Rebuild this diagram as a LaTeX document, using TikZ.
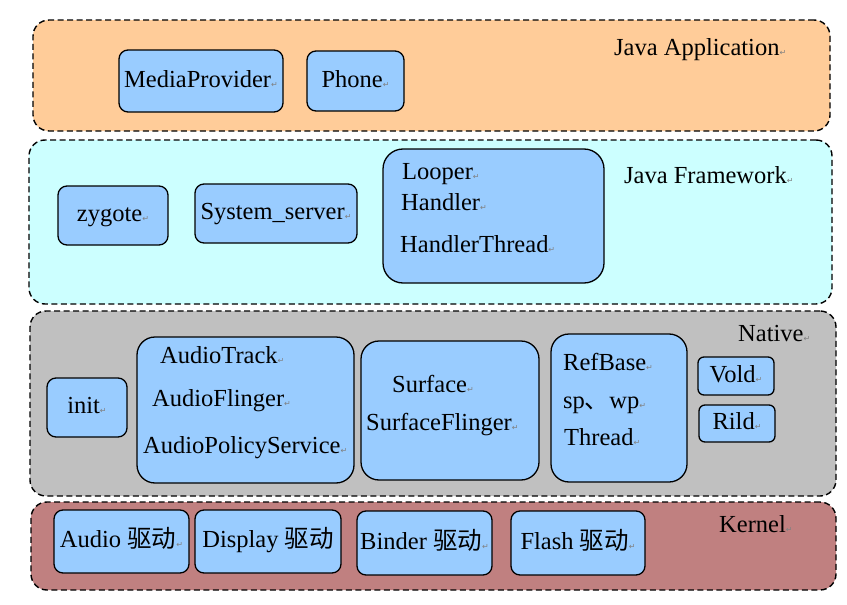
\documentclass[tikz,border=0pt]{standalone}
\usepackage{fontspec}
\setmainfont{Liberation Serif}
\newfontfamily\cjk{Noto Sans CJK SC}
\newfontfamily\symfont{DejaVu Sans}
\definecolor{appfill}{HTML}{FFCC99}
\definecolor{fwfill}{HTML}{CCFFFF}
\definecolor{nativefill}{HTML}{C0C0C0}
\definecolor{kernelfill}{HTML}{C08080}
\definecolor{boxblue}{HTML}{99CCFF}
\newcommand{\pmk}{{\symfont\fontsize{8}{8}\selectfont\textcolor{gray}{↵}}}
\newcommand{\qd}{{\cjk 驱动}}
\begin{document}
\begin{tikzpicture}[x=1pt,y=-1pt,>=stealth]
    % styles
    \tikzset{layer/.style={draw,line width=1.4pt,dash pattern=on 6pt off 3.5pt,rounded corners=16pt,inner sep=0pt},
             comp/.style={draw,line width=1.3pt,fill=boxblue,rounded corners=9pt,inner sep=0pt,
                          font=\fontsize{24.5}{28}\selectfont,text height=12pt,text depth=0pt},
             txt/.style={anchor=base west,inner sep=0pt,font=\fontsize{24.5}{28}\selectfont}}
    \useasboundingbox (0,0) rectangle (847,605);

    % layers
    \node[layer,fill=appfill,minimum width=797,minimum height=111]    (app)    at (431.5,75.5) {};
    \node[layer,fill=fwfill,minimum width=803,minimum height=164]     (fw)     at (430.5,222)  {};
    \node[layer,fill=nativefill,minimum width=806,minimum height=185] (native) at (433,403.5)  {};
    \node[layer,fill=kernelfill,minimum width=805,minimum height=88]  (kernel) at (433.5,546)  {};

    % layer labels
    \node[txt] (appT)    at (614,56)    {Java Application\pmk};
    \node[txt] (fwT)     at (624,183.3) {Java Framework\pmk};
    \node[txt] (nativeT) at (738,341.7) {Native\pmk};
    \node[txt] (kernelT) at (719,532)   {Kernel\pmk};

    % Java Application
    \node[comp,minimum width=164,minimum height=62] (media) at (201,81)    {MediaProvider\pmk};
    \node[comp,minimum width=97,minimum height=60]  (phone) at (355.5,81)  {Phone\pmk};

    % Java Framework
    \node[comp,minimum width=110,minimum height=59] (zygote) at (113,215.5) {zygote\pmk};
    \node[comp,minimum width=162,minimum height=59] (sysserver) at (276,213.5) {System\_server\pmk};
    \node[comp,rounded corners=20pt,minimum width=221,minimum height=134] (looper) at (493.5,216) {};
    \node[txt] (looperA) at (402,179)   {Looper\pmk};
    \node[txt] (looperB) at (401,210.7) {Handler\pmk};
    \node[txt] (looperC) at (400,252.7) {HandlerThread\pmk};

    % Native
    \node[comp,minimum width=80,minimum height=59] (init) at (87,407.5) {init\pmk};
    \node[comp,rounded corners=18pt,minimum width=217,minimum height=146] (audio) at (245.5,410) {};
    \node[txt] (audioA) at (160,363)   {AudioTrack\pmk};
    \node[txt] (audioB) at (152,406.7) {AudioFlinger\pmk};
    \node[txt] (audioC) at (143,453)   {AudioPolicyService\pmk};
    \node[comp,rounded corners=18pt,minimum width=178,minimum height=139] (surface) at (450,410.5) {};
    \node[txt] (surfaceA) at (392,392.7) {Surface\pmk};
    \node[txt] (surfaceB) at (366,430.7) {SurfaceFlinger\pmk};
    \node[comp,rounded corners=18pt,minimum width=136,minimum height=148] (refbase) at (619,408) {};
    \node[txt] (refA) at (563,370) {RefBase\pmk};
    \node[txt] (refB) at (563,408) {sp{\cjk 、}wp\pmk};
    \node[txt] (refC) at (564,445) {Thread\pmk};
    \node[comp,rounded corners=6pt,minimum width=76,minimum height=38] (vold) at (736,376)   {Vold\pmk};
    \node[comp,rounded corners=6pt,minimum width=76,minimum height=37] (rild) at (737,423.5) {Rild\pmk};

    % Kernel
    \node[comp,minimum width=135,minimum height=63] (kaudio)   at (121.5,541.5) {Audio \qd\pmk};
    \node[comp,minimum width=146,minimum height=63] (kdisplay) at (268,541.5)   {Display \qd};
    \node[comp,minimum width=135,minimum height=64] (kbinder)  at (424.5,543)   {Binder \qd\pmk};
    \node[comp,minimum width=134,minimum height=64] (kflash)   at (578,543)     {Flash \qd\pmk};
\end{tikzpicture}
\end{document}
